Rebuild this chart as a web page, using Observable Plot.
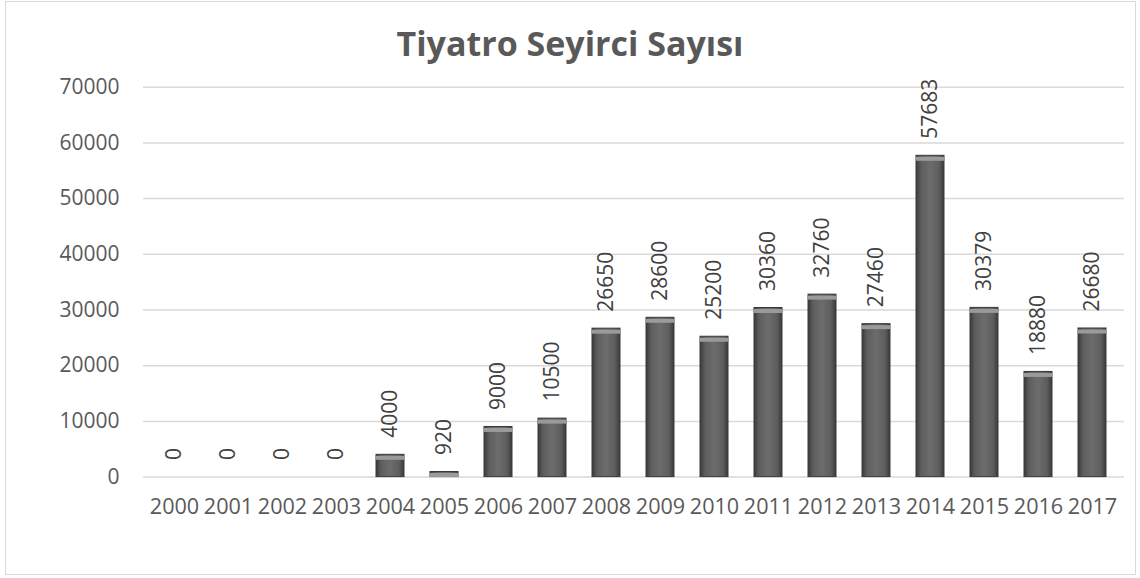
<!DOCTYPE html>
<html>
<head>
<meta charset="utf-8">
<script src="https://cdn.jsdelivr.net/npm/d3@7"></script>
<script src="https://cdn.jsdelivr.net/npm/@observablehq/plot@0.6"></script>
<style>
  html, body { margin: 0; padding: 0; background: #fff; }
  body { width: 1140px; height: 578px; position: relative; overflow: hidden; font-family: "Open Sans", sans-serif; }
  #frame { position: absolute; left: 5px; top: 1px; width: 1131px; height: 574px; border: 1.5px solid #d9d9d9; box-sizing: border-box; }
  #title { position: absolute; left: 0; top: 26px; width: 1140px; text-align: center; font-size: 34px; line-height: 34px; font-weight: bold; color: #595959; }
  #chart { position: absolute; left: 0; top: 70px; }
</style>
</head>
<body>
<div id="frame"></div>
<div id="title">Tiyatro Seyirci Sayısı</div>
<div id="chart"></div>
<script>
const years = ["2000","2001","2002","2003","2004","2005","2006","2007","2008","2009","2010","2011","2012","2013","2014","2015","2016","2017"];
const values = [0,0,0,0,4000,920,9000,10500,26650,28600,25200,30360,32760,27460,57683,30379,18880,26680];
const yTicks = [0,10000,20000,30000,40000,50000,60000,70000];

const data = years.map((y, i) => ({year: y, value: values[i]}));

const plot = Plot.plot({
  width: 1140,
  height: 508,
  marginTop: 16.7,
  marginBottom: 101.4,
  marginLeft: 143,
  marginRight: 16,
  style: {fontFamily: "Open Sans, sans-serif", fontSize: "21px", color: "#595959", background: "transparent"},
  x: {domain: years, paddingInner: 0.48, paddingOuter: 0.24, label: null},
  y: {domain: [0, 70000], label: null},
  marks: [
    Plot.gridY(yTicks, {stroke: "#d9d9d9", strokeOpacity: 1, strokeWidth: 1.5}),
    Plot.axisY(yTicks, {tickSize: 0, tickPadding: 24, tickFormat: d => String(d), label: null}),
    Plot.axisX({tickSize: 0, tickPadding: 22, label: null, fontSize: 21.6}),
    Plot.barY(data, {x: "year", y: "value", fill: "#5a5a5a", stroke: "#3a3a3a", strokeWidth: 1}),
    Plot.tickY(data.filter(d => d.value > 0), {x: "year", y: "value", stroke: "#9a9a9a", strokeWidth: 4, dy: 3}),
    Plot.text(data, {x: "year", y: "value", text: d => String(d.value), rotate: -90, textAnchor: "start", lineAnchor: "middle", dy: -17, fill: "#404040", fontSize: 21})
  ]
});

const svg = d3.select(plot);
const defs = svg.insert("defs", ":first-child");
const grad = defs.append("linearGradient").attr("id", "barGrad").attr("x1", 0).attr("x2", 1).attr("y1", 0).attr("y2", 0);
[[0, "#3a3a3a"], [0.18, "#5e5e5e"], [0.5, "#6c6c6c"], [0.82, "#5e5e5e"], [1, "#3a3a3a"]].forEach(([o, c]) => grad.append("stop").attr("offset", o).attr("stop-color", c));
svg.selectAll("g[aria-label='bar']").attr("fill", "url(#barGrad)");

document.getElementById("chart").appendChild(plot);
</script>
</body>
</html>
